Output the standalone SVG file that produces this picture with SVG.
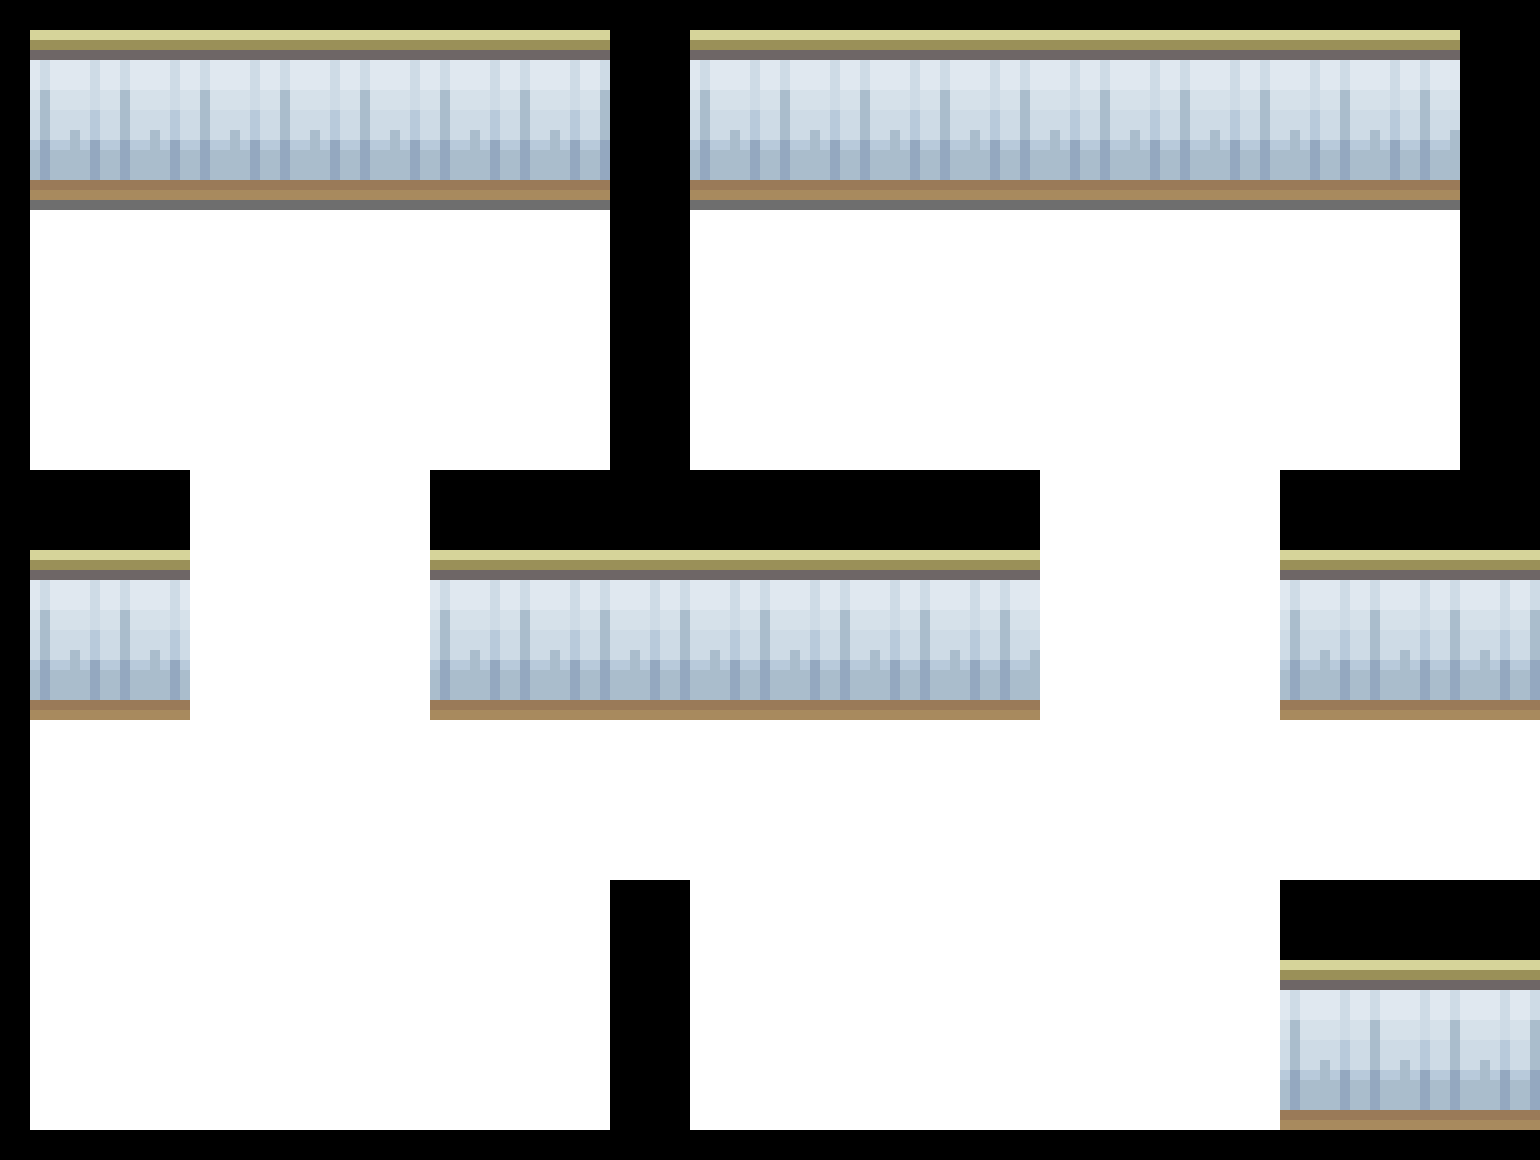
<svg xmlns="http://www.w3.org/2000/svg" width="1540" height="1160" viewBox="0 0 1540 1160">
<defs>
<pattern id="p" patternUnits="userSpaceOnUse" width="80" height="180">
<rect width="80" height="10" fill="#d6d49a"/>
<rect y="10" width="80" height="10" fill="#9a9058"/>
<rect y="20" width="80" height="10" fill="#6e6666"/>
<rect y="30" width="80" height="30" fill="#e0e8f0"/>
<rect y="60" width="80" height="20" fill="#d6e1ea"/>
<rect y="80" width="80" height="30" fill="#cedbe6"/>
<rect y="110" width="80" height="10" fill="#b8cadb"/>
<rect y="120" width="80" height="30" fill="#aabdcc"/>
<rect x="10" y="30" width="10" height="120" fill="#cedbe6"/>
<rect x="10" y="60" width="10" height="60" fill="#aabdcc"/>
<rect x="10" y="110" width="10" height="40" fill="#94a8c0"/>
<rect x="60" y="30" width="10" height="120" fill="#cedbe6"/>
<rect x="60" y="80" width="10" height="40" fill="#b8cadb"/>
<rect x="60" y="110" width="10" height="40" fill="#94a8c0"/>
<rect x="40" y="100" width="10" height="20" fill="#aabdcc"/>
<rect y="150" width="80" height="10" fill="#9a7a58"/>
<rect y="160" width="80" height="10" fill="#a88a5e"/>
<rect y="170" width="80" height="10" fill="#6e6e6e"/>
</pattern>
</defs>
<rect width="1540" height="1160" fill="#000"/>
<g id="floor" fill="#fff">
<rect x="30" y="30" width="580" height="440"/>
<rect x="690" y="30" width="770" height="440"/>
<rect x="190" y="470" width="240" height="250"/>
<rect x="1040" y="470" width="240" height="250"/>
<rect x="30" y="720" width="1510" height="410"/>
</g>
<g id="blocks" fill="#000">
<rect x="610" y="880" width="80" height="250"/>
<rect x="1280" y="880" width="260" height="80"/>
</g>
<g id="walls" fill="url(#p)">
<rect transform="translate(30,30)" width="580" height="180"/>
<rect transform="translate(690,30)" width="770" height="180"/>
<rect transform="translate(30,550)" width="160" height="170"/>
<rect transform="translate(430,550)" width="610" height="170"/>
<rect transform="translate(1280,550)" width="260" height="170"/>
<rect transform="translate(1280,960)" width="260" height="170"/>
</g>
</svg>
